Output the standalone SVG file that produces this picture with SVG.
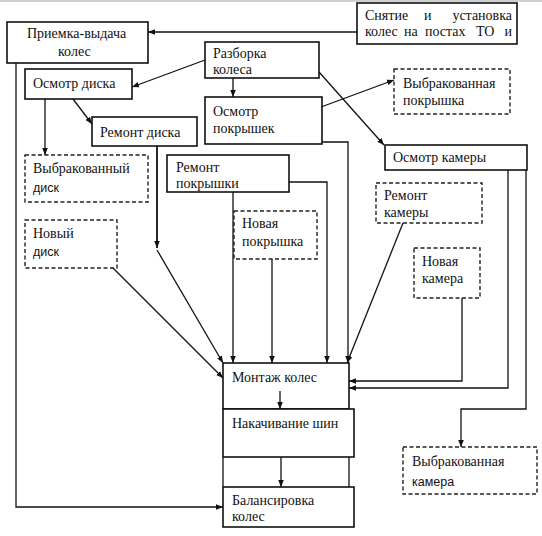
<svg xmlns="http://www.w3.org/2000/svg" width="542" height="536" viewBox="0 0 542 536">
<defs>
<marker id="ah" viewBox="0 0 10 10" refX="10" refY="5" markerWidth="7" markerHeight="7" markerUnits="userSpaceOnUse" orient="auto"><path d="M0,1 L10,5 L0,9 z" fill="#111"/></marker>
</defs>
<style>
.box{fill:#fff;stroke:#111;stroke-width:1.6}
.dbox{fill:#fff;stroke:#222;stroke-width:1.4;stroke-dasharray:4 2.5}
.c{fill:none;stroke:#111;stroke-width:1.3;marker-end:url(#ah)}
.l{fill:none;stroke:#111;stroke-width:1.3}
</style>
<rect x="0" y="0" width="542" height="2" fill="#cfcfcf"/>
<g font-family="'Liberation Serif', 'DejaVu Serif', serif" font-size="14" fill="#111">
<g id="priemka"><rect class="box" x="7" y="22" width="141" height="41"/><text x="27" y="38">Приемка-выдача</text><text x="58" y="56">колес</text></g>
<g id="snyatie"><rect class="box" x="357" y="3" width="160" height="41"/>
<text x="365" y="20">Снятие</text><text x="424" y="20">и</text><text x="512" y="20" text-anchor="end">установка</text>
<text x="365" y="36">колес</text><text x="404" y="36">на</text><text x="425" y="36">постах</text><text x="476" y="36">ТО</text><text x="512" y="36" text-anchor="end">и</text></g>
<g id="razborka"><rect class="box" x="205" y="42" width="114" height="36"/><text x="213" y="58">Разборка</text><text x="213" y="74">колеса</text></g>
<g id="osmotr-diska"><rect class="box" x="25" y="69" width="107" height="30"/><text x="33" y="88">Осмотр диска</text></g>
<g id="osmotr-pokryshek"><rect class="box" x="205" y="97" width="117" height="47"/><text x="213" y="116">Осмотр</text><text x="213" y="133">покрышек</text></g>
<g id="remont-diska"><rect class="box" x="92" y="117" width="105" height="29"/><text x="100" y="137">Ремонт диска</text></g>
<g id="vybr-pokryshka"><rect class="dbox" x="394" y="69" width="116" height="45"/><text x="403" y="88">Выбракованная</text><text x="403" y="105">покрышка</text></g>
<g id="osmotr-kamery"><rect class="box" x="385" y="145" width="142" height="25"/><text x="393" y="162">Осмотр камеры</text></g>
<g id="vybr-disk"><rect class="dbox" x="25" y="155" width="123" height="47"/><text x="33" y="173">Выбракованный</text><text x="33" y="192" font-family="'Liberation Sans', sans-serif" font-size="12.5">диск</text></g>
<g id="remont-pokryshki"><rect class="box" x="167" y="155" width="122" height="37"/><text x="176" y="172">Ремонт</text><text x="176" y="188">покрышки</text></g>
<g id="remont-kamery"><rect class="dbox" x="376" y="183" width="106" height="40"/><text x="384" y="200">Ремонт</text><text x="384" y="217">камеры</text></g>
<g id="novyi-disk"><rect class="dbox" x="25" y="220" width="92" height="48"/><text x="33" y="238">Новый</text><text x="33" y="256" font-family="'Liberation Sans', sans-serif" font-size="12.5">диск</text></g>
<g id="novaya-pokryshka"><rect class="dbox" x="234" y="211" width="83" height="48"/><text x="242" y="228">Новая</text><text x="242" y="246">покрышка</text></g>
<g id="novaya-kamera"><rect class="dbox" x="414" y="248" width="66" height="50"/><text x="422" y="266">Новая</text><text x="422" y="283">камера</text></g>
<g id="montazh"><rect class="box" x="223" y="363" width="126" height="46"/><text x="232" y="382">Монтаж колес</text></g>
<g id="nakachivanie"><rect class="box" x="223" y="409" width="131" height="48"/><text x="232" y="428">Накачивание шин</text></g>
<g id="frame"><line class="l" x1="223" y1="457" x2="223" y2="487"/><line class="l" x1="349" y1="457" x2="349" y2="487"/></g>
<g id="balansirovka"><rect class="box" x="223" y="487" width="131" height="40"/><text x="232" y="505">Балансировка</text><text x="232" y="521">колес</text></g>
<g id="vybr-kamera"><rect class="dbox" x="403" y="447" width="134" height="47"/><text x="412" y="466">Выбракованная</text><text x="412" y="486" font-family="'Liberation Sans', sans-serif" font-size="12.5">камера</text></g>
</g>
<g id="connectors">
<path class="c" d="M357,32 L148,32"/>
<path class="c" d="M205,60 L132,87"/>
<path class="c" d="M233,78 L233,97"/>
<path class="c" d="M319,72 L384,145"/>
<path class="c" d="M321,107 L394,80"/>
<path class="c" d="M45,99 L45,155"/>
<path class="c" d="M73,99 L92,124"/>
<path class="c" d="M157,146 L157,248" style="stroke-width:1.8"/>
<path class="c" d="M157,250 L223,363"/>
<path class="c" d="M113,268 L223,378"/>
<path class="c" d="M233,192 L233,363"/>
<path class="c" d="M272,259 L272,363"/>
<path class="c" d="M289,182 L327,182 L327,363"/>
<path class="c" d="M322,142 L348,142 L348,363"/>
<path class="c" d="M403,223 L347,363"/>
<path class="c" d="M462,298 L462,381 L349,381"/>
<path class="c" d="M508,170 L508,388 L349,388"/>
<path class="c" d="M526,170 L526,409 L461,409 L461,447"/>
<path class="c" d="M280,391 L280,409"/>
<path class="c" d="M281,457 L281,487"/>
<path class="c" d="M16,63 L16,507 L223,507"/>
</g>
</svg>
